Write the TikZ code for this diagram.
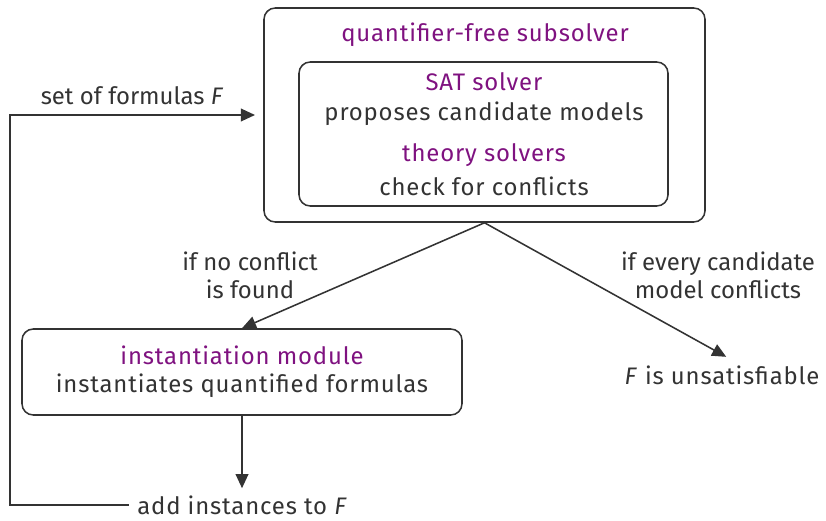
\documentclass[tikz,border=0pt]{standalone}
\usepackage{fontspec}
\setmainfont{Fira Sans}
\newfontfamily\widefont{Fira Sans}[LetterSpace=3.5]
\usepackage{xcolor}
\usetikzlibrary{positioning,arrows.meta}

\definecolor{ink}{HTML}{333333}
\definecolor{headc}{HTML}{7F1280}

\begin{document}
\begin{tikzpicture}
            [x=0.025cm, y=-0.025cm, font=\fontsize{17}{20}\selectfont, text=ink,
             box/.style ={draw=ink, line width=1.1pt, rounded corners=8pt},
             head/.style ={text=headc},
             lbl/.style ={align=center, inner sep=0pt},
             wide/.style ={lbl, font=\fontsize{17}{20}\widefont},
             arr/.style ={draw=ink, line width=1.1pt, -{Triangle[length=10pt,width=9pt]}}]
            \useasboundingbox (0,0) rectangle (826,520);
            % subsolver boxes
            \node[box, minimum width=441*0.025cm, minimum height=214*0.025cm] (outer) at (484.5,115){};
            \node[box, minimum width=369*0.025cm, minimum height=144*0.025cm] (inner) at (483.5,134){};
            \node[wide, head] (qf) at (485,35){quantifier-free subsolver};
            \node[wide, head] (sat) at (484,82){SAT solver};
            \node[wide] (prop) at (484,114){proposes candidate models};
            \node[wide, head] (th) at (484,155){theory solvers};
            \node[wide] (chk) at (484,186){check for conflicts};
            % instantiation
            \node[box, minimum width=440*0.025cm, minimum height=86*0.025cm] (inst) at (242,372){};
            \node[wide, head] (im) at (242,355){instantiation module};
            \node[wide] (iq) at (242,386){instantiates quantified formulas};
            % results and labels
            \node[wide, anchor=west] (add) at (137,505){add instances to \textit{F}};
            \node[wide] (unsat) at (722,375){\textit{F} is unsatisfiable};
            \node[lbl] (setf) at (132,96){set of formulas \textit{F}};
            \node[lbl] (noc) at (250,275){if no conflict\\is found};
            \node[lbl] (every) at (718,275){if every candidate\\model conflicts};
            \coordinate (top) at (255,115);
            \coordinate (corner1) at (10,505);
            \coordinate (corner2) at (10,115);
            \draw[arr] (outer.south) to (inst.north);
            \draw[arr] (outer.south) to ([xshift=3pt,yshift=6pt]unsat.north);
            \draw[arr] (inst.south) to ([yshift=5pt]inst.south |- add.north);
            \draw[arr] ([xshift=-6pt]add.west) -- (corner1) -- (corner2) -- (top);
        \end{tikzpicture}
\end{document}
